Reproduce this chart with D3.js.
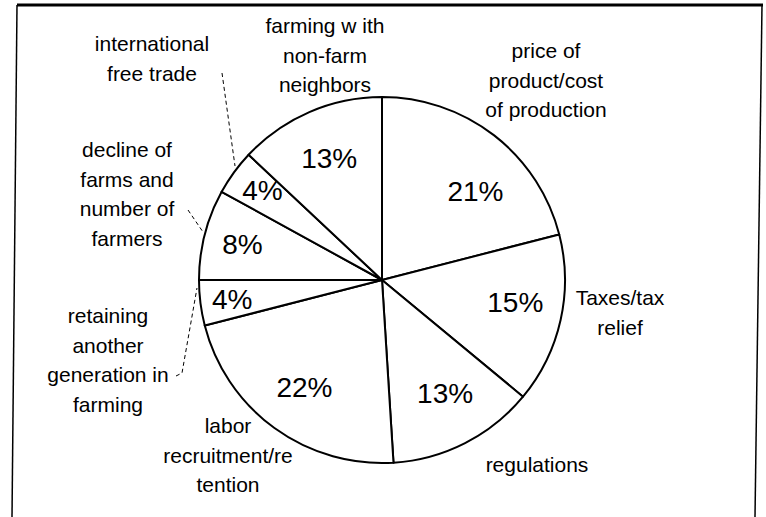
<!DOCTYPE html>
<html>
<head>
<meta charset="utf-8">
<script src="https://cdn.jsdelivr.net/npm/d3@7"></script>
<style>
  body { margin: 0; background: #fff; }
  text { font-family: "Liberation Sans", Arial, sans-serif; fill: #000; }
</style>
</head>
<body>
<div id="chart"></div>
<script>
// data, clockwise from 12 o'clock
const categories = [
  "price of product/cost of production",
  "Taxes/tax relief",
  "regulations",
  "labor recruitment/retention",
  "retaining another generation in farming",
  "decline of farms and number of farmers",
  "international free trade",
  "farming with non-farm neighbors"
];
const shares = [21, 15, 13, 22, 4, 8, 4, 13];
const labelLines = [
  ["price of", "product/cost", "of production"],
  ["Taxes/tax", "relief"],
  ["regulations"],
  ["labor", "recruitment/re", "tention"],
  ["retaining", "another", "generation in", "farming"],
  ["decline of", "farms and", "number of", "farmers"],
  ["international", "free trade"],
  ["farming w ith", "non-farm", "neighbors"]
];

const width = 766, height = 517;
const cx = 382, cy = 280, radius = 183;

// where the category names sit (centre x, first baseline)
const namePos = [[546, 58], [620, 305], [537, 472], [228, 433], [108, 323], [127, 157], [152, 51], [325, 33]];
// distance of % label from centre, and small angle nudge (radians)
const pctRadius = [129, 135, 129, 132, 151, 144, 150, 133];
const pctNudge = [0.15, -0.06, -0.04, 0, 0, 0, 0.02, 0];

const svg = d3.select("#chart")
  .append("svg")
  .attr("width", width)
  .attr("height", height)
  .style("background", "#fff");

// scanned frame (top + slightly skewed sides)
svg.append("line").attr("x1", 17).attr("y1", 5).attr("x2", 763).attr("y2", 5)
   .attr("stroke", "#000").attr("stroke-width", 3);
svg.append("line").attr("x1", 17).attr("y1", 5).attr("x2", 12).attr("y2", 517)
   .attr("stroke", "#000").attr("stroke-width", 1.5);
svg.append("line").attr("x1", 762).attr("y1", 5).attr("x2", 755).attr("y2", 517)
   .attr("stroke", "#000").attr("stroke-width", 1.5);

const pie = d3.pie().sort(null).value(d => d);
const arcs = pie(shares);

const arcMaker = d3.arc().innerRadius(0).outerRadius(radius);

const g = svg.append("g").attr("transform", `translate(${cx}, ${cy})`);

g.selectAll("path.slice")
  .data(arcs)
  .enter()
  .append("path")
  .attr("class", "slice")
  .attr("d", arcMaker)
  .attr("fill", "#fff")
  .attr("stroke", "#000")
  .attr("stroke-width", 2)
  .attr("stroke-linejoin", "round");

// percent labels
g.selectAll("text.pct")
  .data(arcs)
  .enter()
  .append("text")
  .attr("class", "pct")
  .attr("transform", (d, i) => {
    const a = (d.startAngle + d.endAngle) / 2 + pctNudge[i];
    const p = d3.pointRadial(a, pctRadius[i]);
    return `translate(${p[0]}, ${p[1]})`;
  })
  .attr("text-anchor", "middle")
  .attr("dy", "0.36em")
  .style("font-size", "28px")
  .text(d => d.data + "%");

// category names
const names = svg.selectAll("text.name")
  .data(labelLines)
  .enter()
  .append("text")
  .attr("class", "name")
  .attr("text-anchor", "middle")
  .style("font-size", "21px");

names.each(function (lines, i) {
  d3.select(this).selectAll("tspan")
    .data(lines)
    .enter()
    .append("tspan")
    .attr("x", namePos[i][0])
    .attr("y", (l, j) => namePos[i][1] + j * 29.5)
    .text(l => l);
});

// dashed leaders for the thin slices
const leaders = [
  [[222, 73], [235, 166]],
  [[188, 210], [203, 232]],
  [[176, 376], [182, 373], [197, 288]]
];
const lineMaker = d3.line();
svg.selectAll("path.leader")
  .data(leaders)
  .enter()
  .append("path")
  .attr("class", "leader")
  .attr("d", lineMaker)
  .attr("fill", "none")
  .attr("stroke", "#000")
  .attr("stroke-width", 1)
  .attr("stroke-dasharray", "4,3");
</script>
</body>
</html>
